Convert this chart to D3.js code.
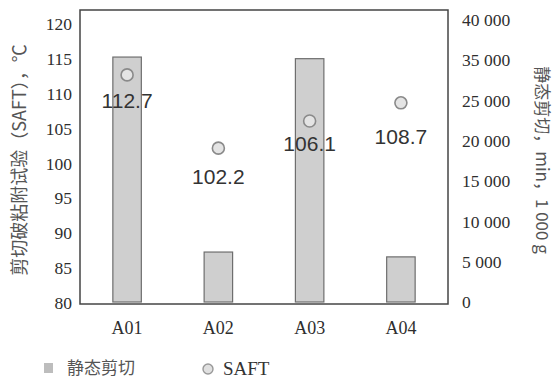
<!DOCTYPE html>
<html>
<head>
<meta charset="utf-8">
<script src="https://cdn.jsdelivr.net/npm/d3@7"></script>
<style>
  body { margin: 0; background: #fff; }
  svg { display: block; }
  .tick text { font-family: "Liberation Serif", "DejaVu Serif", serif; fill: #2e2e2e; }
</style>
</head>
<body>
<div id="chart"></div>
<script>
const categories = ["A01", "A02", "A03", "A04"];
const staticShear = [35400, 6200, 35200, 5600]; // min, 1 000 g (right axis)
const saft = [112.7, 102.2, 106.1, 108.7];      // °C (left axis)
const leftTicks = [80, 85, 90, 95, 100, 105, 110, 115, 120];
// right axis labels as printed (30 000 is skipped in the original)
const rightTicks = [0, 5000, 10000, 15000, 20000, 25000, 35000, 40000];
const labelDy = [33, 36, 30, 41];

const width = 555, height = 380;
const frame = { left: 80, right: 448, top: 10, bottom: 304 };

const svg = d3.select("#chart").append("svg")
  .attr("width", width)
  .attr("height", height);

const x = d3.scaleBand()
  .domain(categories)
  .range([frame.left, frame.right])
  .paddingInner(0.688)
  .paddingOuter(0.36);

const yLeft = d3.scaleLinear().domain([80, 120]).range([303, 24]);

// evenly spaced printed labels -> piecewise linear scale
const rightRange = rightTicks.map((d, i) => 302 - i * (282 / (rightTicks.length - 1)));
const yRight = d3.scaleLinear().domain(rightTicks).range(rightRange);

const fmt = d => d === 0 ? "0" : d3.format(",")(d).replace(",", " ");

// bars
svg.append("g")
  .selectAll("rect")
  .data(categories)
  .join("rect")
  .attr("x", d => x(d))
  .attr("y", (d, i) => yRight(staticShear[i]))
  .attr("width", x.bandwidth())
  .attr("height", (d, i) => yRight(0) - yRight(staticShear[i]))
  .attr("fill", "#cfcfcf")
  .attr("stroke", "#6e6e6e")
  .attr("stroke-width", 1.2);

// frame
svg.append("rect")
  .attr("x", frame.left)
  .attr("y", frame.top)
  .attr("width", frame.right - frame.left)
  .attr("height", frame.bottom - frame.top)
  .attr("fill", "none")
  .attr("stroke", "#444")
  .attr("stroke-width", 1.5);

// axes
const axL = svg.append("g")
  .attr("transform", `translate(${frame.left},0)`)
  .call(d3.axisLeft(yLeft).tickValues(leftTicks).tickSize(0).tickPadding(8));
axL.select(".domain").remove();
axL.selectAll("text").style("font-size", "17.5px");

const axR = svg.append("g")
  .attr("transform", `translate(${frame.right},0)`)
  .call(d3.axisRight(yRight).tickValues(rightTicks).tickFormat(fmt).tickSize(0).tickPadding(14));
axR.select(".domain").remove();
axR.selectAll("text").style("font-size", "17.5px");

const axB = svg.append("g")
  .attr("transform", `translate(0,${frame.bottom})`)
  .call(d3.axisBottom(x).tickSize(0).tickPadding(17));
axB.select(".domain").remove();
axB.selectAll("text").style("font-size", "18px");

// SAFT points
svg.append("g")
  .selectAll("circle")
  .data(categories)
  .join("circle")
  .attr("cx", d => x(d) + x.bandwidth() / 2)
  .attr("cy", (d, i) => yLeft(saft[i]))
  .attr("r", 6)
  .attr("fill", "#e4e4e4")
  .attr("stroke", "#8a8a8a")
  .attr("stroke-width", 1.6);

svg.append("g")
  .selectAll("text")
  .data(categories)
  .join("text")
  .attr("x", d => x(d) + x.bandwidth() / 2)
  .attr("y", (d, i) => yLeft(saft[i]) + labelDy[i])
  .attr("text-anchor", "middle")
  .attr("font-family", "Liberation Sans, Arial, sans-serif")
  .attr("font-size", 21)
  .attr("fill", "#333")
  .text((d, i) => saft[i].toFixed(1));

// axis titles
svg.append("text")
  .attr("transform", "translate(26,160) rotate(-90)")
  .attr("text-anchor", "middle")
  .attr("font-family", "Noto Sans CJK SC, sans-serif")
  .attr("font-size", 18)
  .attr("fill", "#555")
  .text("剪切破粘附试验（SAFT），℃");

svg.append("text")
  .attr("transform", "translate(536,160) rotate(90)")
  .attr("text-anchor", "middle")
  .attr("font-family", "Noto Sans CJK SC, sans-serif")
  .attr("font-size", 17)
  .attr("fill", "#555")
  .text("静态剪切，min，1 000 g");

// legend
const legend = svg.append("g");
legend.append("rect")
  .attr("x", 44).attr("y", 363).attr("width", 9).attr("height", 10)
  .attr("fill", "#bdbdbd");
legend.append("text")
  .attr("x", 67).attr("y", 374)
  .attr("font-family", "Noto Sans CJK SC, sans-serif")
  .attr("font-size", 17)
  .attr("fill", "#555")
  .text("静态剪切");
legend.append("circle")
  .attr("cx", 208).attr("cy", 369).attr("r", 5)
  .attr("fill", "#e0e0e0").attr("stroke", "#999").attr("stroke-width", 1.4);
legend.append("text")
  .attr("x", 223).attr("y", 375)
  .attr("font-family", "Liberation Serif, serif")
  .attr("font-size", 19)
  .attr("fill", "#333")
  .text("SAFT");
</script>
</body>
</html>
